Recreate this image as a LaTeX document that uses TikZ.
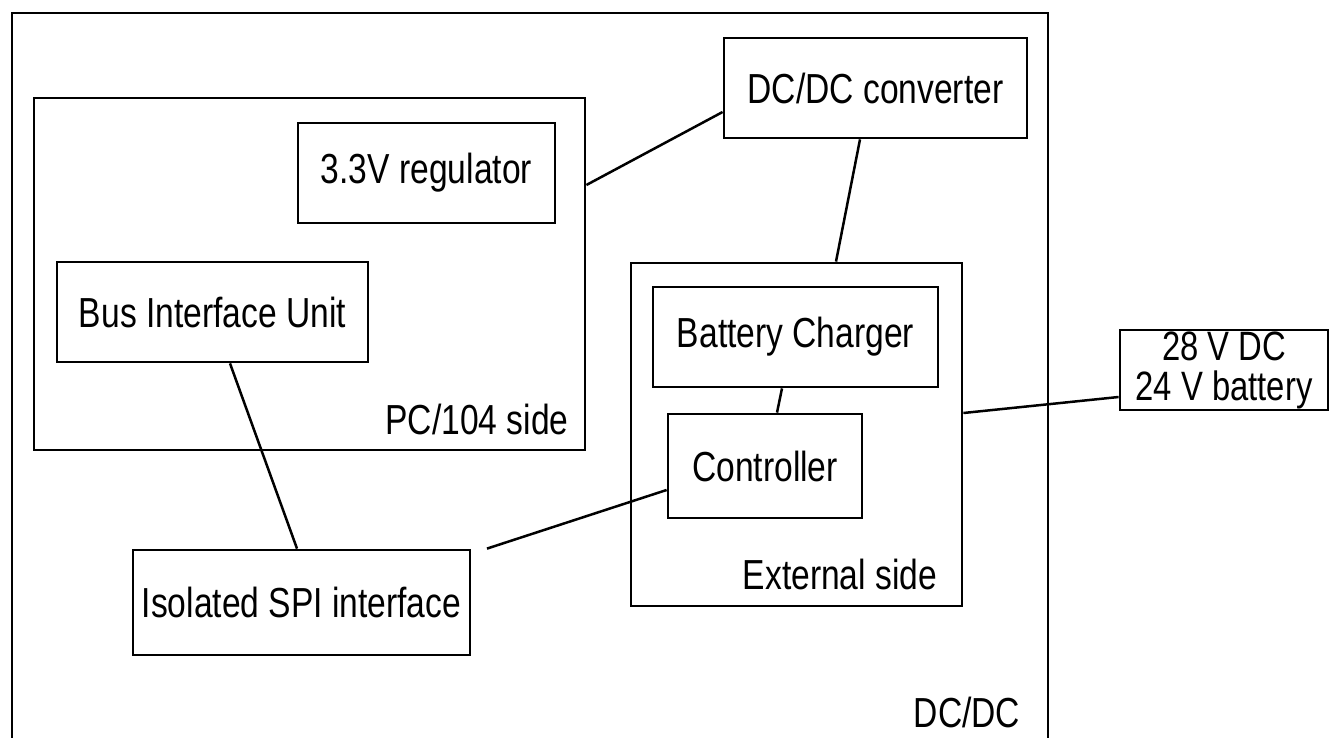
\documentclass[tikz,border=0pt]{standalone}
\usepackage{fontspec}
\setmainfont{Liberation Sans}[FakeStretch=0.8]
\begin{document}
\begin{tikzpicture}[x=1pt,y=-1pt,line width=2.8pt,
  box/.style={draw,rectangle,inner sep=0pt,font=\fontsize{42}{37}\selectfont},
  lbl/.style={inner sep=0pt,font=\fontsize{42}{37}\selectfont},
  conn/.style={line width=2.5pt}]
\useasboundingbox (0,0) rectangle (1339,738);
\clip (0,0) rectangle (1339,738);
% outer DC/DC container
\node[box,minimum width=1036pt,minimum height=800pt] (outer) at (530,413) {};
\node[lbl] (outerlbl) at (967,712) {DC/DC};
% PC/104 side
\node[box,minimum width=551pt,minimum height=352pt] (pc) at (309.5,274) {};
\node[lbl] (pclbl) at (477,419) {PC/104 side};
\node[box,minimum width=257pt,minimum height=100pt] (reg) at (426.5,173) {3.3V regulator};
\node[box,minimum width=311pt,minimum height=100pt] (biu) at (212.5,312) {Bus Interface Unit};
% DC/DC converter
\node[box,minimum width=303pt,minimum height=100pt] (conv) at (875.5,88) {DC/DC converter};
% External side
\node[box,minimum width=331pt,minimum height=343pt] (ext) at (796.5,434.5) {};
\node[lbl] (extlbl) at (840,574) {External side};
\node[box,minimum width=285pt,minimum height=100pt] (chg) at (795.5,337) {Battery Charger};
\node[box,minimum width=194pt,minimum height=104pt] (ctrl) at (765,466) {Controller};
% battery
\node[box,minimum width=208pt,minimum height=80pt,align=center,font=\fontsize{41}{40}\selectfont] (batt) at (1224,370) {28 V DC\\24 V battery};
% SPI
\node[box,minimum width=337pt,minimum height=105pt] (spi) at (301.5,602.5) {Isolated SPI interface};
% connectors
\draw[conn] ([yshift=89pt]pc.east) -- ([yshift=-24pt]conv.west);
\draw[conn] ([xshift=-15.5pt]conv.south) -- ([xshift=39.5pt]ext.north);
\draw[conn] ([xshift=-13.5pt]chg.south) -- ([xshift=12pt]ctrl.north);
\draw[conn] ([yshift=21.5pt]ext.east) -- ([yshift=-27pt]batt.west);
\draw[conn] ([xshift=17.5pt]biu.south) -- ([xshift=-4.5pt]spi.north);
\draw[conn] ([yshift=-24pt]ctrl.west) -- ([xshift=185.5pt]spi.north);
\end{tikzpicture}
\end{document}
